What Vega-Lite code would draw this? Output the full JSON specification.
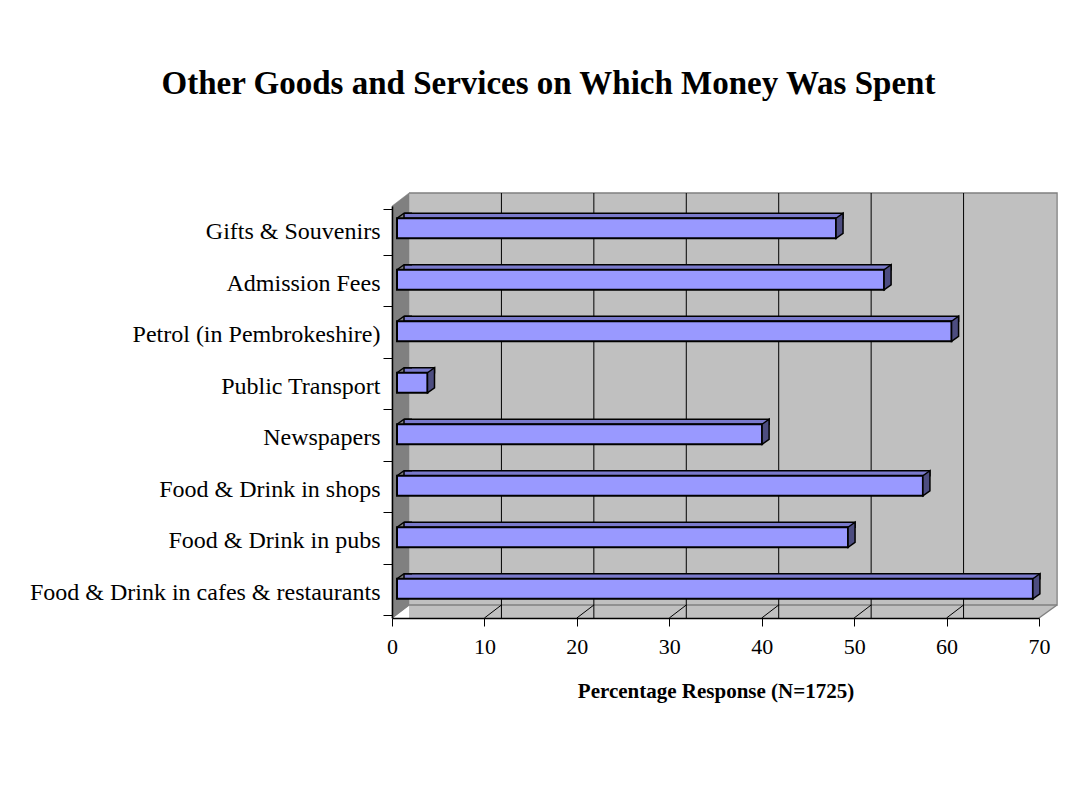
{
  "$schema": "https://vega.github.io/schema/vega-lite/v6.json",
  "width": 647,
  "height": 412,
  "autosize": {"type": "none"},
  "padding": {"left": 392, "top": 206, "right": 32, "bottom": 172},
  "background": "white",
  "config": {"view": {"stroke": null}},
  "title": {
    "text": "Other Goods and Services on Which Money Was Spent",
    "font": "Liberation Serif",
    "fontSize": 33,
    "fontWeight": "bold",
    "color": "black",
    "anchor": "middle",
    "frame": "group",
    "dx": -167,
    "offset": 89
  },
  "datasets": {
    "spend": [
      {"item": "Gifts & Souvenirs", "pct": 47.5},
      {"item": "Admission Fees", "pct": 52.7},
      {"item": "Petrol (in Pembrokeshire)", "pct": 60.0},
      {"item": "Public Transport", "pct": 3.3},
      {"item": "Newspapers", "pct": 39.5},
      {"item": "Food & Drink in shops", "pct": 56.9},
      {"item": "Food & Drink in pubs", "pct": 48.8},
      {"item": "Food & Drink in cafes & restaurants", "pct": 68.8}
    ],
    "ticks": [{"v": 10}, {"v": 20}, {"v": 30}, {"v": 40}, {"v": 50}, {"v": 60}],
    "one": [{"k": 1}]
  },
  "layer": [
    {
      "data": {"name": "one"},
      "mark": {"type": "rect", "fill": "#C0C0C0", "strokeWidth": 0, "xOffset": 17, "x2Offset": 17, "yOffset": -13, "y2Offset": 0},
      "encoding": {
        "x": {"datum": 0, "type": "quantitative", "scale": {"domain": [0, 70], "nice": false}},
        "x2": {"datum": 70}
      }
    },
    {
      "data": {"name": "one"},
      "mark": {"type": "point", "shape": "M0,206L18,192.5L20,192.5L20,208L0,208Z", "size": 4, "filled": true, "fill": "#FFFFFF", "strokeWidth": 0, "opacity": 1},
      "encoding": {"x": {"datum": 70, "type": "quantitative"}}
    },
    {
      "data": {"name": "one"},
      "mark": {"type": "point", "shape": "M0,206L17,193L665,193L665,-219L17,-219", "size": 4, "filled": false, "stroke": "#808080", "strokeWidth": 1.5, "opacity": 1},
      "encoding": {"x": {"datum": 0, "type": "quantitative"}}
    },
    {
      "data": {"name": "one"},
      "mark": {"type": "point", "shape": "M647,206L665,193", "size": 4, "filled": false, "stroke": "#808080", "strokeWidth": 1.5, "opacity": 1},
      "encoding": {"x": {"datum": 0, "type": "quantitative"}}
    },
    {
      "data": {"name": "one"},
      "mark": {"type": "point", "shape": "M0,-206L17,-219L17,193L0,206Z", "size": 4, "filled": true, "fill": "#808080", "stroke": "#808080", "strokeWidth": 0.5, "opacity": 1},
      "encoding": {"x": {"datum": 0, "type": "quantitative"}}
    },
    {
      "data": {"name": "ticks"},
      "mark": {"type": "rule", "color": "#000000", "strokeWidth": 1, "xOffset": 17, "yOffset": -13, "y2Offset": -13},
      "encoding": {"x": {"field": "v", "type": "quantitative"}}
    },
    {
      "data": {"name": "ticks"},
      "mark": {"type": "point", "shape": "M0,206L17,193", "size": 4, "filled": false, "stroke": "#000000", "strokeWidth": 1, "opacity": 1},
      "encoding": {"x": {"field": "v", "type": "quantitative"}}
    },
    {
      "data": {"name": "spend"},
      "mark": {"type": "bar", "size": 5, "fill": "#7A7ACC", "stroke": "#000000", "strokeWidth": 1.5, "xOffset": 12, "x2Offset": 5, "yOffset": -16},
      "encoding": {
        "y": {"field": "item", "type": "nominal", "sort": null},
        "x": {"field": "pct", "type": "quantitative"}
      }
    },
    {
      "data": {"name": "spend"},
      "mark": {"type": "point", "shape": "M3.5,-20.5L12.6,-20.5L12,-18.5L5,-13.5L3.5,-13.5Z", "size": 4, "filled": true, "fill": "#808080", "strokeWidth": 0, "opacity": 1},
      "encoding": {
        "y": {"field": "item", "type": "nominal", "sort": null},
        "x": {"datum": 0, "type": "quantitative"}
      }
    },
    {
      "data": {"name": "spend"},
      "mark": {"type": "point", "shape": "M5,-13.5L12,-18.5L20,-18.5", "size": 4, "filled": false, "stroke": "#000000", "strokeWidth": 1.5, "opacity": 1},
      "encoding": {
        "y": {"field": "item", "type": "nominal", "sort": null},
        "x": {"datum": 0, "type": "quantitative"}
      }
    },
    {
      "data": {"name": "spend"},
      "mark": {"type": "bar", "size": 20, "fill": "#9999FF", "stroke": "#000000", "strokeWidth": 2, "xOffset": 5, "x2Offset": 5, "yOffset": -3.5},
      "encoding": {
        "y": {
          "field": "item", "type": "nominal", "sort": null,
          "axis": {
            "title": null,
            "zindex": 1,
            "tickBand": "extent",
            "domainColor": "#000000",
            "domainWidth": 1.5,
            "tickColor": "#000000",
            "tickWidth": 1,
            "tickSize": 9,
            "labelFont": "Liberation Serif",
            "labelFontSize": 24,
            "labelColor": "#000000",
            "labelPadding": 3,
            "labelLimit": 500
          }
        },
        "x": {
          "field": "pct", "type": "quantitative",
          "scale": {"domain": [0, 70], "nice": false},
          "axis": {
            "title": "Percentage Response (N=1725)",
            "values": [0, 10, 20, 30, 40, 50, 60, 70],
            "grid": false,
            "zindex": 1,
            "domainColor": "#000000",
            "domainWidth": 1.5,
            "tickColor": "#000000",
            "tickWidth": 1,
            "tickSize": 8,
            "labelFont": "Liberation Serif",
            "labelFontSize": 22,
            "labelColor": "#000000",
            "labelPadding": 10,
            "labelFlush": false,
            "titleFont": "Liberation Serif",
            "titleFontSize": 21,
            "titleFontWeight": "bold",
            "titleColor": "#000000",
            "titlePadding": 23
          }
        }
      }
    },
    {
      "data": {"name": "spend"},
      "mark": {"type": "point", "shape": "M5,-13.5L12,-18.5L12,1.5L5,6.5Z", "size": 4, "filled": true, "fill": "#4D4D80", "stroke": "#000000", "strokeWidth": 1.5, "opacity": 1},
      "encoding": {
        "y": {"field": "item", "type": "nominal", "sort": null},
        "x": {"field": "pct", "type": "quantitative"}
      }
    }
  ]
}
